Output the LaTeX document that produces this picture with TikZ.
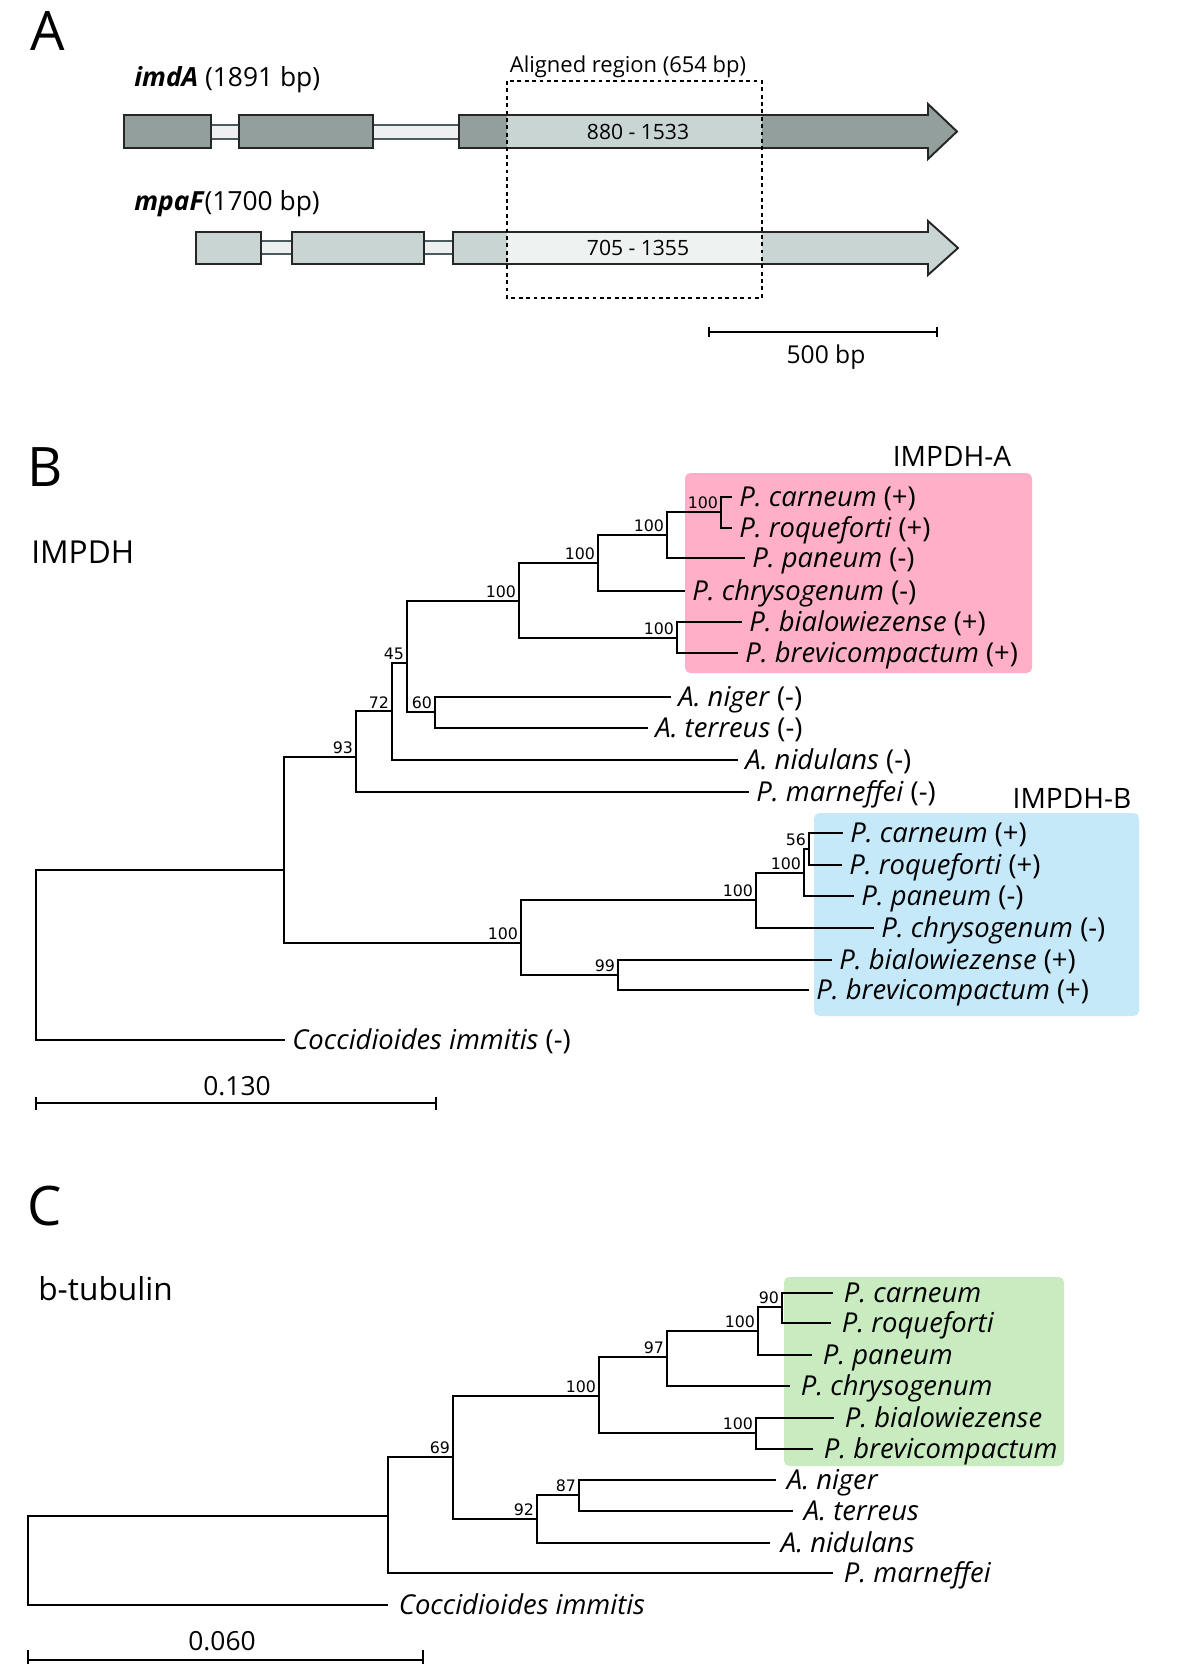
\documentclass[tikz,border=0pt]{standalone}
\usepackage{fontspec}
\setmainfont{Open Sans}
\newfontfamily\bootfont{DejaVu Sans}
\definecolor{exonA}{HTML}{929F9C}
\definecolor{exonB}{HTML}{C9D5D2}
\definecolor{alignB}{HTML}{EEF2F1}
\definecolor{intronfill}{HTML}{EEF0F0}
\definecolor{intronline}{HTML}{4A5B5B}
\definecolor{boxA}{HTML}{FFAFC8}
\definecolor{boxB}{HTML}{C6E9FA}
\definecolor{boxC}{HTML}{C8EBC0}

\begin{document}
\begin{tikzpicture}[x=0.02cm,y=-0.02cm,
	br/.style={line width=1.15pt},
	tip/.style={anchor=west,inner xsep=4pt,inner ysep=0pt,text height=11pt,text depth=0pt,font=\fontsize{15.6}{15.6}\selectfont},
	tipC/.style={tip,inner xsep=6pt},
	boot/.style={anchor=south east,inner sep=1.5pt,font=\bootfont\fontsize{9}{9}\selectfont},
	panel/.style={inner sep=0pt,font=\fontsize{31}{31}\selectfont},
	exon/.style={draw=black!85,line width=1.1pt},
	intron/.style={draw=intronline,line width=1pt}]
	\useasboundingbox (0,0) rectangle (1200,1664);
	%%%%%%%%%% panel A
	\node[panel] (lA) at (48,31) {A};
	\node[anchor=base west,inner sep=0pt,font=\fontsize{15}{15}\selectfont] (imdA) at (134,86) {\textbf{\textit{imdA}} (1891 bp)};
	\node[anchor=base west,inner sep=0pt,font=\fontsize{15}{15}\selectfont] (mpaF) at (134,210) {\textbf{\textit{mpaF}}(1700 bp)};
	\node[anchor=base,inner sep=0pt,font=\fontsize{12.5}{12.5}\selectfont] (alig) at (628,72) {Aligned region (654 bp)};
	% imdA gene
	\fill[intronfill] (211,125) rectangle (239,139);% intron 1
	\draw[intron] (211,125) -- (239,125) (211,139) -- (239,139);
	\fill[intronfill] (373,125) rectangle (459,139);% intron 2
	\draw[intron] (373,125) -- (459,125) (373,139) -- (459,139);
	\draw[exon,fill=exonA] (124,115) rectangle (211,148);% exon 1
	\draw[exon,fill=exonA] (239,115) rectangle (373,148);% exon 2
	\fill[exonA] (459,115) -- (928,115) -- (928,104) -- (957,131.5) -- (928,159) -- (928,148) -- (459,148) -- cycle;
	\fill[exonB] (507,115) rectangle (762,148);% aligned part
	\draw[exon] (459,115) -- (928,115) -- (928,104) -- (957,131.5) -- (928,159) -- (928,148) -- (459,148) -- cycle;% last exon
	\node[font=\fontsize{12}{12}\selectfont] (posA) at (638,131.5) {880 - 1533};
	% mpaF gene
	\fill[intronfill] (261,241) rectangle (292,254);
	\draw[intron] (261,241) -- (292,241) (261,254) -- (292,254);
	\fill[intronfill] (424,241) rectangle (453,254);
	\draw[intron] (424,241) -- (453,241) (424,254) -- (453,254);
	\draw[exon,fill=exonB] (196,232) rectangle (261,264);
	\draw[exon,fill=exonB] (292,232) rectangle (424,264);
	\fill[exonB] (453,232) -- (928,232) -- (928,221) -- (958,248) -- (928,275) -- (928,264) -- (453,264) -- cycle;
	\fill[alignB] (507,232) rectangle (762,264);
	\draw[exon] (453,232) -- (928,232) -- (928,221) -- (958,248) -- (928,275) -- (928,264) -- (453,264) -- cycle;
	\node[font=\fontsize{12}{12}\selectfont] (posB) at (638,248) {705 - 1355};
	\draw[dash pattern=on 2.2pt off 2pt,line width=0.6pt] (507,81) rectangle (762,298);% aligned region
	% 500 bp bar
	\draw[line width=1.3pt] (709,327) -- (709,337) (709,332) -- (937,332) (937,327) -- (937,337);
	\node[anchor=base,inner sep=0pt,font=\fontsize{14}{14}\selectfont] (bp) at (826,363) {500 bp};
	%%%%%%%%%% panel B
	\node[panel] (lB) at (45,467) {B};
	\node[anchor=west,inner sep=0pt,font=\fontsize{18}{18}\selectfont] (tB) at (31,552) {IMPDH};
	\fill[boxA,rounded corners=3pt] (685,473) rectangle (1032,673);
	\fill[boxB,rounded corners=3pt] (814,813) rectangle (1139,1016);
	\node[font=\fontsize{16}{16}\selectfont] (cladeA) at (952,456) {IMPDH-A};
	\node[font=\fontsize{16}{16}\selectfont] (cladeB) at (1072,798) {IMPDH-B};
	% inner nodes (x, height of the incoming branch)
	\coordinate (rB) at (36,955);
	\coordinate (nB1) at (284,870);
	\coordinate (n93) at (356,757);
	\coordinate (n72) at (392,711);
	\coordinate (n45) at (407,663);
	\coordinate (n60) at (435,712);
	\coordinate (nA100a) at (519,601);
	\coordinate (nA100b) at (598,563);
	\coordinate (nA100c) at (667,535);
	\coordinate (nA100d) at (721,512);
	\coordinate (nA100e) at (677,638);
	\coordinate (nB100) at (521,943);
	\coordinate (nB100b) at (756,900);
	\coordinate (nB100c) at (804,873);
	\coordinate (nB56) at (809,849);
	\coordinate (nB99) at (618,975);
	% leaves
	\node[tip] (Acar) at (732,497) {\textit{P. carneum} (+)};
	\node[tip] (Aroq) at (732,528) {\textit{P. roqueforti} (+)};
	\node[tip] (Apan) at (745,558) {\textit{P. paneum} (-)};
	\node[tip] (Achr) at (685,591) {\textit{P. chrysogenum} (-)};
	\node[tip] (Abia) at (742,622) {\textit{P. bialowiezense} (+)};
	\node[tip] (Abre) at (738,653) {\textit{P. brevicompactum} (+)};
	\node[tip] (Anig) at (671,697) {\textit{A. niger} (-)};
	\node[tip] (Ater) at (648,728) {\textit{A. terreus} (-)};
	\node[tip] (Anid) at (738,760) {\textit{A. nidulans} (-)};
	\node[tip] (Pmar) at (749,792) {\textit{P. marneffei} (-)};
	\node[tip] (Bcar) at (843,833) {\textit{P. carneum} (+)};
	\node[tip] (Broq) at (842,865) {\textit{P. roqueforti} (+)};
	\node[tip] (Bpan) at (854,896) {\textit{P. paneum} (-)};
	\node[tip] (Bchr) at (874,928) {\textit{P. chrysogenum} (-)};
	\node[tip] (Bbia) at (832,960) {\textit{P. bialowiezense} (+)};
	\node[tip] (Bbre) at (809,990) {\textit{P. brevicompactum} (+)};
	\node[tip] (Cim) at (285,1040) {\textit{Coccidioides immitis} (-)};
	\foreach \p/\c in {rB/nB1,nB1/n93,nB1/nB100,n93/n72,n72/n45,n45/nA100a,n45/n60,nA100a/nA100b,nA100a/nA100e,nA100b/nA100c,nA100c/nA100d,nB100/nB100b,nB100/nB99,nB100b/nB100c,nB100c/nB56}
		\draw[br] (\p) |- (\c);
	\foreach \p/\c in {rB/Cim,n93/Pmar,n72/Anid,n60/Anig,n60/Ater,nA100b/Achr,nA100c/Apan,nA100d/Acar,nA100d/Aroq,nA100e/Abia,nA100e/Abre,nB100b/Bchr,nB100c/Bpan,nB56/Bcar,nB56/Broq,nB99/Bbia,nB99/Bbre}
		\draw[br] (\p) |- (\c.west);
	\foreach \n/\v in {n93/93,n72/72,n45/45,n60/60,nA100a/100,nA100b/100,nA100c/100,nA100d/100,nA100e/100,nB100/100,nB100b/100,nB100c/100,nB56/56,nB99/99}
		\node[boot] (b\n) at (\n) {\v};
	% 0.130 bar
	\draw[line width=1.3pt] (36,1097) -- (36,1110) (36,1103) -- (436,1103) (436,1097) -- (436,1110);
	\node[anchor=base,inner sep=0pt,font=\fontsize{15}{15}\selectfont] (sB) at (237,1095) {0.130};
	%%%%%%%%%% panel C
	\node[panel] (lC) at (45,1206) {C};
	\node[anchor=base west,inner sep=0pt,font=\fontsize{18}{18}\selectfont] (tC) at (38,1300) {b-tubulin};
	\fill[boxC,rounded corners=3pt] (784,1277) rectangle (1064,1466);
	\coordinate (rC) at (28,1560);
	\coordinate (nC1) at (388,1516);
	\coordinate (n69) at (453,1457);
	\coordinate (n92) at (537,1519);
	\coordinate (n87) at (579,1495);
	\coordinate (nC100a) at (599,1396);
	\coordinate (n97) at (667,1357);
	\coordinate (nC100b) at (758,1331);
	\coordinate (n90) at (782,1307);
	\coordinate (nC100d) at (756,1433);
	\node[tipC] (cCar) at (833,1293) {\textit{P. carneum}};
	\node[tipC] (cRoq) at (831,1323) {\textit{P. roqueforti}};
	\node[tipC] (cPan) at (812,1355) {\textit{P. paneum}};
	\node[tipC] (cChr) at (790,1386) {\textit{P. chrysogenum}};
	\node[tipC] (cBia) at (834,1418) {\textit{P. bialowiezense}};
	\node[tipC] (cBre) at (813,1449) {\textit{P. brevicompactum}};
	\node[tipC] (cNig) at (776,1480) {\textit{A. niger}};
	\node[tipC] (cTer) at (793,1511) {\textit{A. terreus}};
	\node[tipC] (cNid) at (770,1543) {\textit{A. nidulans}};
	\node[tipC] (cMar) at (833,1573) {\textit{P. marneffei}};
	\node[tipC] (cCim) at (388,1605) {\textit{Coccidioides immitis}};
	\foreach \p/\c in {rC/nC1,nC1/n69,n69/nC100a,n69/n92,n92/n87,nC100a/n97,nC100a/nC100d,n97/nC100b,nC100b/n90}
		\draw[br] (\p) |- (\c);
	\foreach \p/\c in {rC/cCim,nC1/cMar,n92/cNid,n87/cNig,n87/cTer,n97/cChr,nC100b/cPan,n90/cCar,n90/cRoq,nC100d/cBia,nC100d/cBre}
		\draw[br] (\p) |- (\c.west);
	\foreach \n/\v in {n69/69,n92/92,n87/87,nC100a/100,n97/97,nC100b/100,n90/90,nC100d/100}
		\node[boot] (b\n) at (\n) {\v};
	% 0.060 bar
	\draw[line width=1.3pt] (28,1650) -- (28,1670) (28,1660) -- (423,1660) (423,1650) -- (423,1670);
	\node[anchor=base,inner sep=0pt,font=\fontsize{15}{15}\selectfont] (sC) at (222,1650) {0.060};
\end{tikzpicture}
\end{document}
